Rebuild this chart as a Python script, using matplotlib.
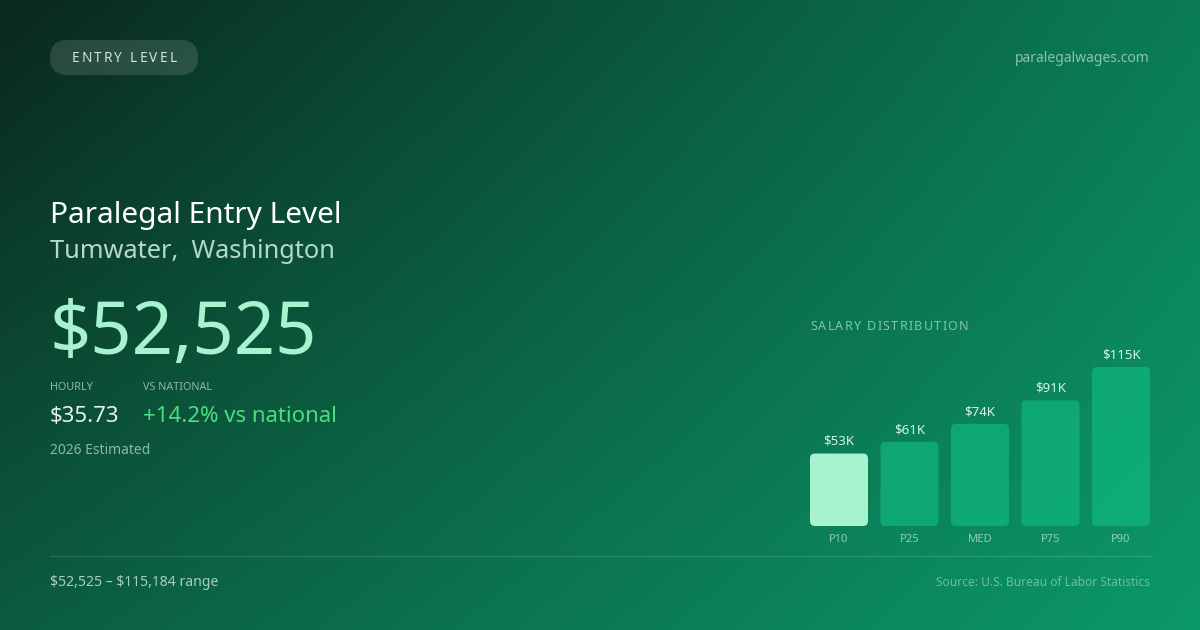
import numpy as np
import matplotlib
matplotlib.use("Agg")
import matplotlib.pyplot as plt
from matplotlib.patches import FancyBboxPatch

plt.rcParams['font.family'] = ['Noto Sans', 'DejaVu Sans']

#%% Data
labels = ['P10', 'P25', 'MED', 'P75', 'P90']
salaries = [52525, 61000, 74000, 91000, 115184]
value_labels = [r'\$53K', r'\$61K', r'\$74K', r'\$91K', r'\$115K']

title = 'Paralegal Entry Level'
location = 'Tumwater,  Washington'
headline = r'\$52,525'
hourly = r'\$35.73'
vs_national = '+14.2% vs national'
range_text = r'\$52,525 – \$115,184 range'

#%% Figure and gradient background
W, H = 1200, 630
fig = plt.figure(figsize=(12, 6.3), dpi=100)
ax = fig.add_axes([0, 0, 1, 1])
ax.set_xlim(0, W)
ax.set_ylim(H, 0)
ax.axis('off')

tl = np.array([10, 40, 29]) / 255
tr = np.array([11, 124, 87]) / 255
bl = np.array([12, 92, 63]) / 255
br = np.array([11, 153, 105]) / 255
u = np.linspace(0, 1, W)[None, :, None]
v = np.linspace(0, 1, H)[:, None, None]
grad = (1 - u) * (1 - v) * tl + u * (1 - v) * tr + (1 - u) * v * bl + u * v * br
ax.imshow(grad, extent=(0, W, H, 0), aspect='auto', zorder=0)

renderer = fig.canvas.get_renderer()


def spaced(x, y, s, spacing, ha='left', **kw):
    # matplotlib has no letter-spacing, so place chars one by one
    widths = []
    for ch in s:
        t = ax.text(0, 0, ch if ch != ' ' else 'i', **kw)
        widths.append(t.get_window_extent(renderer).width)
        t.remove()
    total = sum(widths) + spacing * (len(s) - 1)
    if ha == 'center':
        x = x - total / 2
    for ch, w in zip(s, widths):
        ax.text(x, y, ch, ha='left', va='center', **kw)
        x += w + spacing


#%% Header
pill = FancyBboxPatch((50, 40), 148, 35, boxstyle='round,pad=0,rounding_size=17.5',
                      fc='white', ec='none', alpha=0.13, zorder=2)
ax.add_patch(pill)
spaced(124, 58, 'ENTRY LEVEL', 2.2, ha='center', fontsize=9.8, color='#cfe6dc', zorder=3)
ax.text(1150, 59, 'paralegalwages.com', ha='right', va='center', fontsize=10,
        color='#8cc3aa')

#%% Left text block
ax.text(50, 215, title, ha='left', va='center', fontsize=21.5, color='white')
ax.text(50, 252, location, ha='left', va='center', fontsize=18.3, color='#b6d8ca')
ax.text(50, 335, headline, ha='left', va='center', fontsize=52, color='#a7f3d0')
ax.text(50, 388, 'HOURLY', ha='left', va='center', fontsize=7.8, color='#8fb8a8')
ax.text(143, 388, 'VS NATIONAL', ha='left', va='center', fontsize=7.8, color='#8fb8a8')
ax.text(50, 416, hourly, ha='left', va='center', fontsize=16, color='#e6f4ee')
ax.text(143, 416, vs_national, ha='left', va='center', fontsize=16, color='#4ade80')
ax.text(50, 450, '2026 Estimated', ha='left', va='center', fontsize=10, color='#8ab8a5')

#%% Salary distribution
spaced(810, 326, 'SALARY DISTRIBUTION', 1.3, fontsize=9, color='#82c6a8')

bax = fig.add_axes([810 / W, (H - 526) / H, 340 / W, 159 / H])
bax.axis('off')
bw = 58 / 70.5
x = np.arange(len(salaries))
bax.set_xlim(-bw / 2, len(salaries) - 1 + bw / 2)
bax.set_ylim(0, max(salaries))
bars = bax.bar(x, salaries, width=bw)

p0 = bax.transData.transform((0, 0))
p1 = bax.transData.transform((1, 1))
px_x, px_y = p1[0] - p0[0], p1[1] - p0[1]
r = 5
for i, rect in enumerate(bars):
    rect.set_visible(False)
    col = '#a7f3d0' if i == 0 else '#10b981'
    alpha = 1.0 if i == 0 else 0.68
    patch = FancyBboxPatch((rect.get_x(), rect.get_y()), rect.get_width(), rect.get_height(),
                           boxstyle=f'round,pad=0,rounding_size={r / px_x}',
                           mutation_aspect=px_x / px_y, fc=col, ec='none', alpha=alpha,
                           clip_on=False)
    bax.add_patch(patch)
    bax.annotate(value_labels[i], (x[i], salaries[i]), xytext=(0, 12), textcoords='offset pixels',
                 ha='center', va='center', fontsize=9.5, color='#d4f5e6', annotation_clip=False)
    bax.annotate(labels[i], (x[i], 0), xytext=(0, -13), textcoords='offset pixels',
                 ha='center', va='center', fontsize=8, color='#8fd0b3', annotation_clip=False)

#%% Footer
ax.plot([50, 1150], [556, 556], color='white', alpha=0.12, lw=1)
ax.text(50, 582, range_text, ha='left', va='center', fontsize=10.1, color='#a9cdbf')
ax.text(1150, 582, 'Source: U.S. Bureau of Labor Statistics', ha='right', va='center',
        fontsize=8.6, color='#74bb9c')

fig.savefig('out.png', dpi=100)
